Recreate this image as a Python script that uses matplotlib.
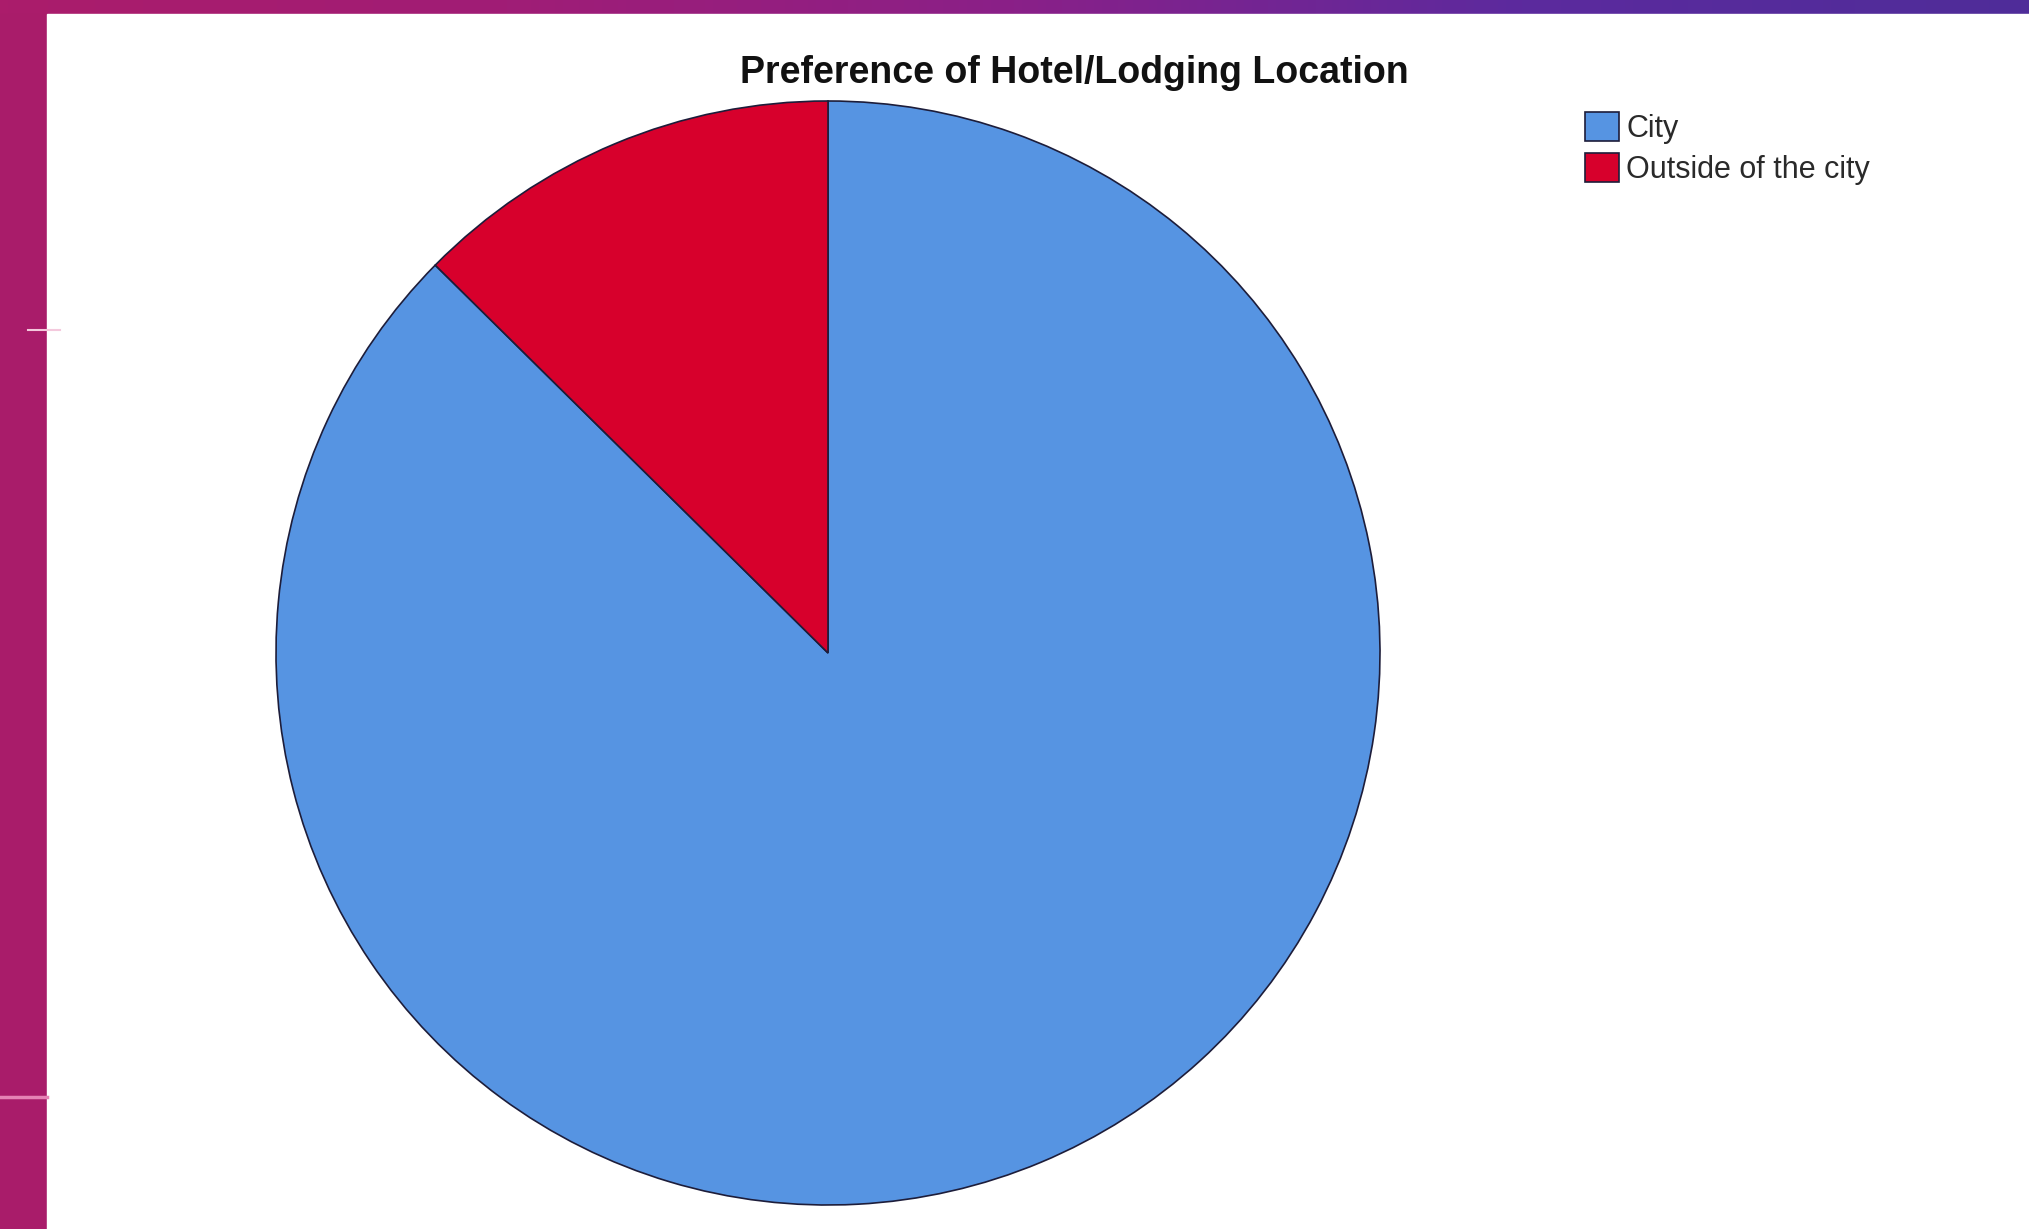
import matplotlib
matplotlib.use("Agg")
import matplotlib.pyplot as plt
from matplotlib.colors import LinearSegmentedColormap
from matplotlib.patches import Rectangle
import numpy as np

# data
labels = ["City", "Outside of the city"]
shares = [87.4, 12.6]
colors = ["#5694e2", "#d7002c"]
title = "Preference of Hotel/Lodging Location"

W, H = 2029, 1229
fig = plt.figure(figsize=(W / 100, H / 100), dpi=100)

# slide background: magenta -> purple band behind a white panel
bg = fig.add_axes([0, 0, 1, 1])
bg.set_axis_off()
grad = LinearSegmentedColormap.from_list("slide", ["#ab1c6b", "#a01d76", "#8a2088", "#5c2a9e", "#4f2d99"])
bg.imshow(np.linspace(0, 1, 256)[None, :], aspect="auto", cmap=grad, extent=(0, 1, 0, 1))
bg.set_xlim(0, 1)
bg.set_ylim(0, 1)
bg.add_patch(Rectangle((0, 0), 47 / W, 1 - 14 / H, color="#a91c6a", zorder=2))
bg.add_patch(Rectangle((47 / W, 0), 1, 1 - 14 / H, color="white", zorder=3))
bg.plot([0, 47 / W], [1 - 1097 / H] * 2, color="#e583b5", lw=2.5, zorder=4)
bg.plot([28 / W, 60 / W], [1 - 330 / H] * 2, color="#f4c9dd", lw=1.5, zorder=4)

# pie axes, square in pixels
cx, cy, r = 828, 653, 552
ax = fig.add_axes([(cx - r) / W, 1 - (cy + r) / H, 2 * r / W, 2 * r / H])
wedges, _ = ax.pie(shares, colors=colors, startangle=90, counterclock=False,
                   wedgeprops=dict(edgecolor="#1d1d3a", linewidth=1.2))
ax.set_xlim(-1.0, 1.0)
ax.set_ylim(-1.0, 1.0)
ax.set_axis_off()

fig.text(1074 / W, 1 - 73 / H, title, ha="center", va="center",
         fontsize=27, fontweight="bold", family="Liberation Sans", color="#111111")

leg = fig.legend(wedges, labels, loc="upper left", bbox_to_anchor=(1585 / W, 1 - 112 / H),
                 frameon=False, borderpad=0, borderaxespad=0,
                 handlelength=1.1, handleheight=1.1, handletextpad=0.25, labelspacing=0.28,
                 prop=dict(family="Liberation Sans", size=22))
for t in leg.get_texts():
    t.set_color("#2a2a2a")

fig.savefig("out.png", dpi=100)
